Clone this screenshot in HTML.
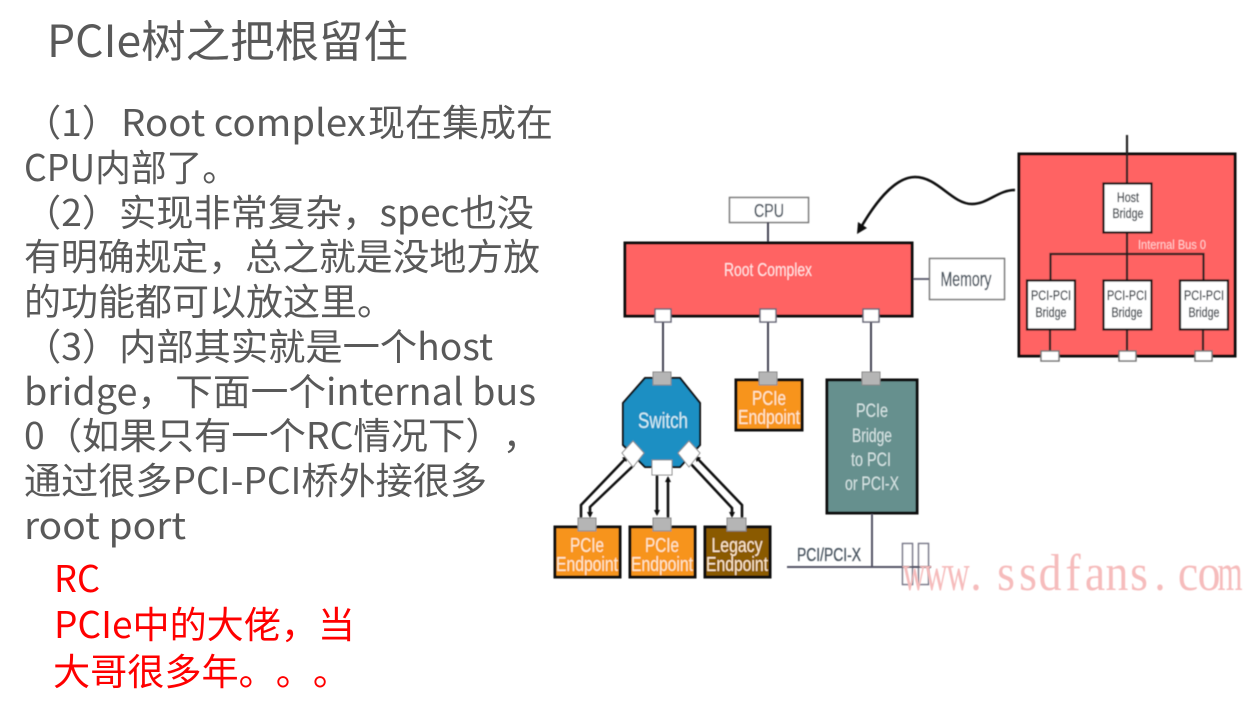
<!DOCTYPE html>
<html><head><meta charset="utf-8">
<style>
html,body{margin:0;padding:0;background:#fff;width:1245px;height:715px;overflow:hidden}
svg{display:block}
svg text{text-spacing-trim:space-all;font-feature-settings:"palt" 0,"chws" 0,"halt" 0}
.t{font-family:"Noto Sans CJK SC","Liberation Sans",sans-serif;fill:#595959;font-size:37px}
.r{font-family:"Noto Sans CJK SC","Liberation Sans",sans-serif;fill:#ff0000;font-size:37px}
.d{font-family:"Liberation Sans",sans-serif;text-anchor:middle}
.k{stroke:#4a5560;stroke-width:.35}
</style></head><body>
<svg width="1245" height="715" viewBox="0 0 1245 715" xmlns="http://www.w3.org/2000/svg">
<defs>
<filter id="b" x="-5%" y="-5%" width="110%" height="110%"><feGaussianBlur stdDeviation="0.5"/></filter>
<filter id="w" x="-5%" y="-20%" width="110%" height="140%"><feGaussianBlur stdDeviation="0.6"/></filter>
<marker id="ah" markerWidth="6" markerHeight="6" refX="4" refY="3" orient="auto" markerUnits="userSpaceOnUse"><path d="M0,0L6,3L0,6Z" fill="#111"/></marker>
</defs>
<text class="t" x="47" y="57" style="font-size:44px" textLength="361" lengthAdjust="spacingAndGlyphs">PCIe树之把根留住</text>
<text class="t" x="24" y="136" textLength="95" lengthAdjust="spacingAndGlyphs">（1）</text>
<text class="t" x="121" y="136" textLength="245" lengthAdjust="spacingAndGlyphs">Root complex</text>
<text class="t" x="368" y="136" textLength="185" lengthAdjust="spacingAndGlyphs">现在集成在</text>
<text class="t" x="24" y="181" textLength="214" lengthAdjust="spacingAndGlyphs">CPU内部了。</text>
<text class="t" x="24" y="226" textLength="510" lengthAdjust="spacingAndGlyphs">（2）实现非常复杂，spec也没</text>
<text class="t" x="24" y="270" textLength="516" lengthAdjust="spacingAndGlyphs">有明确规定，总之就是没地方放</text>
<text class="t" x="24" y="315" textLength="370" lengthAdjust="spacingAndGlyphs">的功能都可以放这里。</text>
<text class="t" x="24" y="360" textLength="469" lengthAdjust="spacingAndGlyphs">（3）内部其实就是一个host</text>
<text class="t" x="24" y="405" textLength="512" lengthAdjust="spacingAndGlyphs">bridge，下面一个internal bus</text>
<text class="t" x="24" y="449" textLength="516" lengthAdjust="spacingAndGlyphs">0（如果只有一个RC情况下），</text>
<text class="t" x="24" y="494" textLength="463" lengthAdjust="spacingAndGlyphs">通过很多PCI-PCI桥外接很多</text>
<text class="t" x="24" y="539" textLength="162" lengthAdjust="spacingAndGlyphs">root port</text>
<text class="r" x="54" y="592" textLength="46" lengthAdjust="spacingAndGlyphs">RC</text>
<text class="r" x="54" y="638" textLength="301" lengthAdjust="spacingAndGlyphs">PCIe中的大佬，当</text>
<text class="r" x="53" y="685" textLength="297" lengthAdjust="spacingAndGlyphs">大哥很多年。。。</text>

<g filter="url(#b)">
<!-- top left -->
<rect x="729.5" y="197.5" width="79" height="25" fill="#fff" stroke="#777" stroke-width="1.5"/>
<text class="d k" x="769" y="217" font-size="18" fill="#4a5560" textLength="30" lengthAdjust="spacingAndGlyphs">CPU</text>
<line x1="768" y1="222" x2="768" y2="242" stroke="#445" stroke-width="2"/>
<rect x="929.5" y="258.5" width="75" height="41" fill="#fff" stroke="#777" stroke-width="1.5"/>
<text class="d k" x="966" y="286" font-size="20" fill="#4a5560" textLength="51" lengthAdjust="spacingAndGlyphs">Memory</text>
<line x1="912" y1="279" x2="929" y2="279" stroke="#667" stroke-width="2"/>
<rect x="625" y="243" width="287" height="73" fill="#ff6464" stroke="#0a0a0a" stroke-width="3"/>
<text class="d" x="768" y="276" font-size="18" fill="#ffe4e4" textLength="88" lengthAdjust="spacingAndGlyphs">Root Complex</text>
<g stroke="#445" stroke-width="2">
<line x1="663" y1="322" x2="663" y2="372"/>
<line x1="768" y1="322" x2="768" y2="372"/>
<line x1="871" y1="322" x2="871" y2="372"/>
</g>
<g fill="#fff" stroke="#667" stroke-width="1.5">
<rect x="655" y="309" width="16" height="13"/>
<rect x="760" y="309" width="16" height="13"/>
<rect x="863" y="309" width="16" height="13"/>
</g>
<!-- curve -->
<path d="M1015,190 C998,190 988,204 972,204 C952,204 938,177 915,177 C893,177 872,208 860,229" fill="none" stroke="#0a0a0a" stroke-width="2.5"/>
<path d="M857,234 L858,222 L867,228 Z" fill="#0a0a0a"/>
<!-- right red -->
<rect x="1019" y="154" width="216" height="202" fill="#ff6464" stroke="#111" stroke-width="3"/>
<g stroke="#222" stroke-width="2.2" fill="none">
<line x1="1127" y1="135" x2="1127" y2="183"/>
<line x1="1127" y1="233" x2="1127" y2="280"/>
<path d="M1050.5,280V254H1203.5V280"/>
<line x1="1050" y1="330" x2="1050" y2="352"/>
<line x1="1127" y1="330" x2="1127" y2="352"/>
<line x1="1203" y1="330" x2="1203" y2="352"/>
</g>
<g fill="#fff" stroke="#111" stroke-width="2.2">
<rect x="1103.5" y="183.5" width="48" height="49"/>
<rect x="1027" y="280.5" width="48" height="49"/>
<rect x="1103.5" y="280.5" width="48" height="49"/>
<rect x="1180" y="280.5" width="48" height="49"/>
</g>
<g font-size="13.5" fill="#3a3a3a">
<text class="d k" x="1128" y="202" textLength="22" lengthAdjust="spacingAndGlyphs">Host</text>
<text class="d k" x="1128" y="218" textLength="31" lengthAdjust="spacingAndGlyphs">Bridge</text>
<text class="d k" x="1051" y="300" textLength="40" lengthAdjust="spacingAndGlyphs">PCI-PCI</text>
<text class="d k" x="1051" y="317" textLength="31" lengthAdjust="spacingAndGlyphs">Bridge</text>
<text class="d k" x="1127" y="300" textLength="40" lengthAdjust="spacingAndGlyphs">PCI-PCI</text>
<text class="d k" x="1127" y="317" textLength="31" lengthAdjust="spacingAndGlyphs">Bridge</text>
<text class="d k" x="1204" y="300" textLength="40" lengthAdjust="spacingAndGlyphs">PCI-PCI</text>
<text class="d k" x="1204" y="317" textLength="31" lengthAdjust="spacingAndGlyphs">Bridge</text>
</g>
<text class="d" x="1172" y="249" font-size="12.5" fill="#ffd0d0" textLength="68" lengthAdjust="spacingAndGlyphs">Internal Bus 0</text>
<g fill="#fff" stroke="#777" stroke-width="1.5">
<rect x="1041" y="351" width="18" height="10"/>
<rect x="1119" y="351" width="17" height="10"/>
<rect x="1195" y="351" width="17" height="10"/>
</g>
<!-- arrows -->
<g fill="none" stroke="#0a0a0a" stroke-width="2.5">
<path d="M581,520V505L627,457" marker-end="url(#ah)"/>
<path d="M634,465L590,507V516" marker-end="url(#ah)"/>
<path d="M657,475V514" marker-end="url(#ah)"/>
<path d="M668,518V478" marker-end="url(#ah)"/>
<path d="M742,520V505L696,457" marker-end="url(#ah)"/>
<path d="M690,463L732,508V516" marker-end="url(#ah)"/>
</g>
<!-- switch -->
<polygon points="645,378 680,378 700,403 700,445 680,467 645,467 623,445 623,403" fill="#1e8fc3" stroke="#111" stroke-width="2"/>
<text class="d" x="663" y="428" font-size="22" fill="#d4eef5" textLength="50" lengthAdjust="spacingAndGlyphs">Switch</text>
<g fill="#fff" stroke="#888" stroke-width="1">
<polygon points="633,441 644,453 633,467 622,453"/>
<polygon points="689,441 700,453 689,467 678,453"/>
<rect x="652" y="460" width="20" height="15"/>
</g>
<!-- endpoints -->
<g stroke="#111" stroke-width="3">
<rect x="736" y="380" width="66" height="50" fill="#f7941d"/>
<rect x="555" y="527" width="65" height="50" fill="#f7941d"/>
<rect x="630" y="527" width="65" height="50" fill="#f7941d"/>
<rect x="705" y="527" width="65" height="50" fill="#8a5a00"/>
<rect x="827" y="380" width="90" height="133" fill="#66908e"/>
</g>
<g fill="#b5b5b5" stroke="#888" stroke-width="1">
<rect x="653" y="372" width="18" height="13"/>
<rect x="759" y="372" width="18" height="13"/>
<rect x="862" y="372" width="18" height="13"/>
<rect x="578" y="518" width="18" height="13"/>
<rect x="653" y="518" width="18" height="13"/>
<rect x="727" y="518" width="19" height="13"/>
</g>
<g font-size="20" fill="#ffe9cf">
<text class="d" x="769" y="405" textLength="34" lengthAdjust="spacingAndGlyphs">PCIe</text>
<text class="d" x="769" y="424" textLength="62" lengthAdjust="spacingAndGlyphs">Endpoint</text>
<text class="d" x="587" y="552" textLength="34" lengthAdjust="spacingAndGlyphs">PCIe</text>
<text class="d" x="587" y="571" textLength="62" lengthAdjust="spacingAndGlyphs">Endpoint</text>
<text class="d" x="662" y="552" textLength="34" lengthAdjust="spacingAndGlyphs">PCIe</text>
<text class="d" x="662" y="571" textLength="62" lengthAdjust="spacingAndGlyphs">Endpoint</text>
<text class="d" x="737" y="552" textLength="51" lengthAdjust="spacingAndGlyphs">Legacy</text>
<text class="d" x="737" y="571" textLength="62" lengthAdjust="spacingAndGlyphs">Endpoint</text>
</g>
<g font-size="19" fill="#d6e4e4">
<text class="d" x="872" y="417" textLength="32" lengthAdjust="spacingAndGlyphs">PCIe</text>
<text class="d" x="872" y="442" textLength="40" lengthAdjust="spacingAndGlyphs">Bridge</text>
<text class="d" x="871" y="466" textLength="40" lengthAdjust="spacingAndGlyphs">to PCI</text>
<text class="d" x="872" y="490" textLength="54" lengthAdjust="spacingAndGlyphs">or PCI-X</text>
</g>
<!-- pci bus -->
<line x1="872" y1="514" x2="872" y2="567" stroke="#556" stroke-width="2"/>
<line x1="787" y1="567" x2="931" y2="567" stroke="#556" stroke-width="2"/>
<g fill="none" stroke="#778" stroke-width="1.5">
<rect x="902.5" y="543.5" width="10" height="41" fill="#fff"/>
<rect x="918.5" y="543.5" width="10" height="41" fill="#fff"/>
</g>
<line x1="902" y1="567" x2="931" y2="567" stroke="#556" stroke-width="2"/>
<text class="d k" x="829" y="561" font-size="18" fill="#4a5560" textLength="64" lengthAdjust="spacingAndGlyphs">PCI/PCI-X</text>
</g>
<g filter="url(#w)" font-family="Liberation Serif,serif" font-size="52" fill="#f6bcbc" text-anchor="middle">
<text transform="scale(.62,1)" y="590" x="1474.2 1509.7 1545.2">www</text>
<text transform="scale(.88,1)" y="590" x="1109.1 1125 1143.2 1168.2 1193.2 1219.3 1244.3 1269.3 1294.3 1318.2 1330 1350 1373.9">. ssdfans. co</text>
<text transform="scale(.62,1)" y="590" x="1983.9">m</text>
</g>
</svg>
</body></html>
